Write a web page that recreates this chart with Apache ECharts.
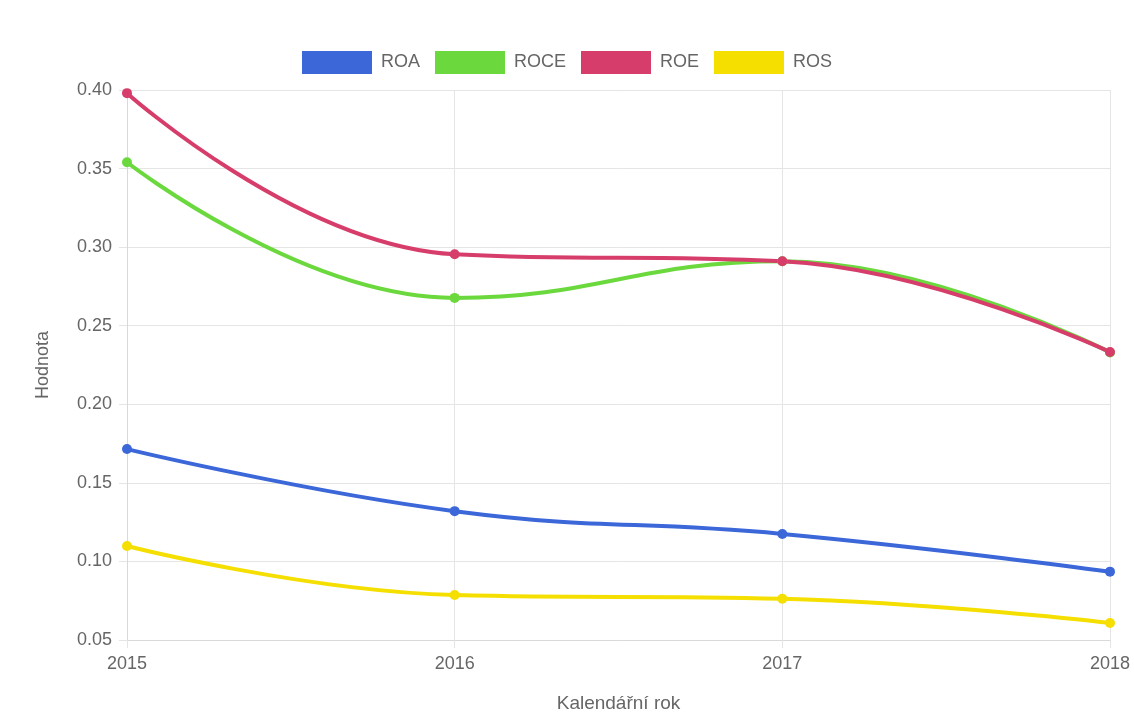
<!DOCTYPE html>
<html>
<head>
<meta charset="utf-8">
<script src="https://cdn.jsdelivr.net/npm/echarts@6/dist/echarts.min.js"></script>
<style>
  html, body { margin: 0; padding: 0; background: #fff; }
  #chart { width: 1134px; height: 713px; }
</style>
</head>
<body>
<div id="chart"></div>
<script>
// roky a hodnoty ukazatelů
const years = ['2015', '2016', '2017', '2018'];
const roa = [0.1715, 0.132, 0.1175, 0.0935];
const roce = [0.354, 0.2677, 0.291, 0.233];
const roe = [0.398, 0.2955, 0.291, 0.2333];
const ros = [0.1098, 0.0786, 0.0762, 0.0608];

const colors = {
  ROA: '#3b67d9',
  ROCE: '#6bd93e',
  ROE: '#d63d6a',
  ROS: '#f5df00'
};

const font = '"Liberation Sans", Arial, sans-serif';
const gridColor = '#e5e5e5';

const chart = echarts.init(document.getElementById('chart'));

function line(name, data) {
  return {
    name: name,
    type: 'line',
    data: data,
    smooth: 0.45,
    symbol: 'circle',
    symbolSize: 10,
    lineStyle: { width: 4, color: colors[name] },
    itemStyle: { color: colors[name] },
    emphasis: { disabled: true }
  };
}

const option = {
  animation: false,
  backgroundColor: '#fff',
  legend: {
    top: 46,
    left: 'center',
    itemWidth: 70,
    itemHeight: 23,
    itemGap: 15,
    icon: 'rect',
    textStyle: { color: '#666', fontSize: 18, fontFamily: font, padding: [0, 0, 0, 4] },
    data: ['ROA', 'ROCE', 'ROE', 'ROS']
  },
  grid: { left: 127, right: 24, top: 90, bottom: 73, outerBoundsMode: 'none', containLabel: false },
  xAxis: {
    type: 'category',
    data: years,
    boundaryGap: false,
    name: 'Kalendářní rok',
    nameLocation: 'middle',
    nameGap: 54,
    nameTextStyle: { color: '#666', fontSize: 19, fontFamily: font },
    axisLine: { lineStyle: { color: '#d9d9d9' } },
    axisTick: { show: true, length: 8, lineStyle: { color: gridColor } },
    axisLabel: { color: '#666', fontSize: 18, fontFamily: font, margin: 15 },
    splitLine: { show: true, lineStyle: { color: gridColor } }
  },
  yAxis: {
    type: 'value',
    min: 0.05,
    max: 0.40,
    interval: 0.05,
    name: 'Hodnota',
    nameLocation: 'middle',
    nameGap: 75,
    nameTextStyle: { color: '#666', fontSize: 18, fontFamily: font },
    axisLine: { show: true, lineStyle: { color: '#d9d9d9' } },
    axisTick: { show: true, length: 8, lineStyle: { color: gridColor } },
    axisLabel: {
      color: '#666', fontSize: 18, fontFamily: font, margin: 15,
      formatter: v => v.toFixed(2)
    },
    splitLine: { show: true, lineStyle: { color: gridColor } }
  },
  series: [
    line('ROA', roa),
    line('ROCE', roce),
    line('ROE', roe),
    line('ROS', ros)
  ]
};

chart.setOption(option);
</script>
</body>
</html>
